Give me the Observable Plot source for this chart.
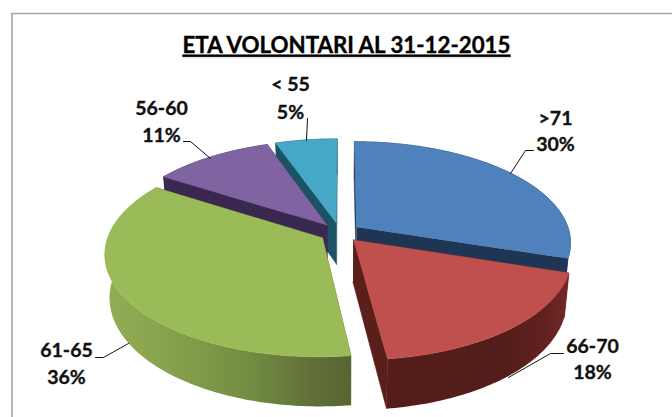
<!DOCTYPE html>
<html>
<head>
<meta charset="utf-8">
<script src="https://cdn.jsdelivr.net/npm/d3@7"></script>
<script src="https://cdn.jsdelivr.net/npm/@observablehq/plot@0.6"></script>
<style>html,body{margin:0;padding:0;background:#fff}svg{display:block}</style>
</head>
<body>
<div id="chart"></div>
<script>
const titleText = "ETA VOLONTARI AL 31-12-2015";
const categories = [">71", "66-70", "61-65", "56-60", "< 55"];
const values = [30, 18, 36, 10.6, 5.4];
const topColors = ["#4f81bd", "#c0504d", "#9bbb59", "#8064a2", "#46a7c6"];
const wallColors = ["#1e3654", "url(#wallRed)", "url(#wallGreen)", "#3a2850", "#1a5364"];
const radialColors = ["#1e3654", "#5a1e1b", "#5a6b33", "#3a2850", "#1a5364"];
const paintOrder = ["< 55", "56-60", ">71", "61-65", "66-70"];

// layout of the projected pie
const W = 672, H = 417;
const cx = 339.5, cy = 232, rx = 213, ry = 99.5;
const persp = 0.15, depth = 0.42, explode = 0.097, narrow = 0.98;
const px = (x) => (x - cx) / rx;
const py = (y) => (cy - y) / ry;

const total = d3.sum(values);
const cum = d3.cumsum(values);
const slices = categories.map((name, i) => {
  const a1 = ((i ? cum[i - 1] : 0) / total) * 2 * Math.PI;
  const a2 = (cum[i] / total) * 2 * Math.PI;
  return {name, i, a1, a2, mid: (a1 + a2) / 2};
});

function project(s, a, r, drop) {
  const X = r * Math.sin(a) + explode * Math.sin(s.mid);
  const Y = r * Math.cos(a) + explode * Math.cos(s.mid);
  const k = 1 / (1 + persp * Y);
  return {x: X * k * (drop ? narrow : 1), y: Y * k - (drop ? depth * k : 0)};
}
function arc(s, drop) {
  const n = Math.max(2, Math.ceil((s.a2 - s.a1) / (Math.PI / 180)));
  return d3.range(n + 1).map((j) => project(s, s.a1 + ((s.a2 - s.a1) * j) / n, 1, drop));
}
const poly = (pts, fill, strokeWidth = 0.6) =>
  Plot.line(pts, {x: "x", y: "y", fill, stroke: fill.startsWith("url") ? "none" : fill, strokeWidth, curve: "linear"});

const sliceMarks = [];
for (const name of paintOrder) {
  const s = slices.find((d) => d.name === name);
  const c0 = project(s, 0, 0, false), c1 = project(s, 0, 0, true);
  const top = arc(s, false), bot = arc(s, true);
  const rad = radialColors[s.i];
  sliceMarks.push(poly([c0, top[0], bot[0], c1], rad));
  sliceMarks.push(poly([c0, top[top.length - 1], bot[bot.length - 1], c1], rad));
  sliceMarks.push(poly([...top, ...bot.slice().reverse()], wallColors[s.i]));
  sliceMarks.push(poly([c0, ...top], topColors[s.i]));
}

// labels: centre x, first-line y, second-line y
const labelLayout = [
  {name: ">71", x: 555, y1: 118, y2: 144},
  {name: "66-70", x: 592, y1: 346, y2: 372},
  {name: "61-65", x: 66, y1: 350, y2: 377},
  {name: "56-60", x: 161, y1: 108, y2: 135},
  {name: "< 55", x: 290, y1: 84, y2: 112}
];
const labelRows = labelLayout.flatMap((l) => {
  const v = values[categories.indexOf(l.name)];
  return [
    {x: px(l.x), y: py(l.y1), t: l.name},
    {x: px(l.x), y: py(l.y2), t: Math.round(v) + "%"}
  ];
});
const leaders = [
  [[510, 173], [525, 150], [533, 150]],
  [[508, 377], [550, 353], [563, 353]],
  [[128, 343], [103, 357], [95, 357]],
  [[210, 158], [190, 141], [183, 141]],
  [[306, 140], [307, 118]]
].map((l) => l.map(([x, y]) => ({x: px(x), y: py(y)})));

const chart = Plot.plot({
  width: W, height: H,
  margin: 0,
  style: {background: "#fff"},
  x: {domain: [-1, 1], range: [cx - rx, cx + rx], axis: null},
  y: {domain: [-1, 1], range: [cy + ry, cy - ry], axis: null},
  marks: [
    Plot.ruleX([px(11.5)], {y1: py(13), y2: py(417), stroke: "#a6a6a6", strokeWidth: 1.6}),
    Plot.ruleY([py(13)], {x1: px(11), x2: px(672), stroke: "#a6a6a6", strokeWidth: 1.6}),
    ...sliceMarks,
    ...leaders.map((l) => Plot.line(l, {x: "x", y: "y", stroke: "#111", strokeWidth: 1, curve: "linear"})),
    Plot.text(labelRows, {x: "x", y: "y", text: "t", fontFamily: "Lato", fontWeight: 700, fontSize: 19.5, fill: "#111", stroke: "#111", strokeWidth: 0.35}),
    Plot.text([titleText], {x: px(346), y: py(45), text: (d) => d, fontFamily: "Lato", fontWeight: 700, fontSize: 22.3, fill: "#000", stroke: "#000", strokeWidth: 0.35})
  ]
});

// gradients used by the outer walls, and the title's underline
const ns = "http://www.w3.org/2000/svg";
const defs = document.createElementNS(ns, "defs");
const grads = {
  wallRed: [[0, "#551d1a"], [0.6, "#521d1a"], [0.85, "#5f211e"], [1, "#742826"]],
  wallGreen: [[0, "#93ae54"], [0.3, "#84a04b"], [0.6, "#728b41"], [0.85, "#616f38"], [1, "#566531"]]
};
for (const [id, stops] of Object.entries(grads)) {
  const g = document.createElementNS(ns, "linearGradient");
  g.setAttribute("id", id);
  for (const [o, c] of stops) {
    const st = document.createElementNS(ns, "stop");
    st.setAttribute("offset", o);
    st.setAttribute("stop-color", c);
    g.appendChild(st);
  }
  defs.appendChild(g);
}
chart.insertBefore(defs, chart.firstChild);
for (const t of chart.querySelectorAll("text")) {
  if (t.textContent === titleText) t.setAttribute("text-decoration", "underline");
}
document.getElementById("chart").appendChild(chart);
</script>
</body>
</html>
